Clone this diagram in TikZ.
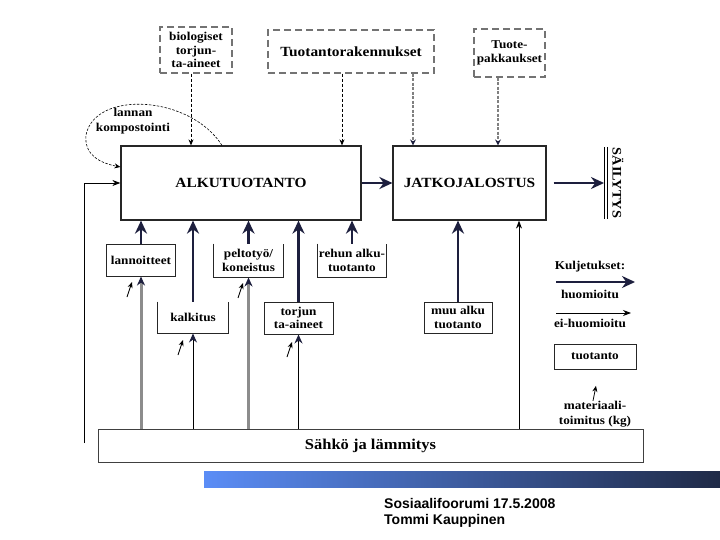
\documentclass[tikz,border=0pt]{standalone}
\usepackage{fontspec}
\setmainfont[FakeStretch=1.1]{Liberation Serif}
\newfontfamily\footfont{Liberation Sans}
\usetikzlibrary{arrows.meta, positioning}
\definecolor{navy}{HTML}{1D1F3E}
\definecolor{barblue}{HTML}{5B8DF6}
\definecolor{bardark}{HTML}{1F2A47}

\begin{document}
\begin{tikzpicture}[x=1pt, y=-1pt,
  box/.style={draw=black!85, line width=1pt, fill=white, align=center, inner sep=1pt, font=\fontsize{12}{13.5}\selectfont\bfseries},
  openbox/.style={box, draw=none},
  dbox/.style={box, draw=black!55, dash pattern=on 7pt off 4pt, line width=1.2pt},
  big/.style={font=\fontsize{14}{16}\selectfont\bfseries},
  lbl/.style={inner sep=0pt, align=center, font=\fontsize{12}{15}\selectfont\bfseries},
  feed/.style={draw=navy, line width=2.4pt, -{Stealth[length=13pt, width=12pt]}},
  thinarr/.style={draw=black, line width=0.9pt, -{Stealth[length=8pt, width=6pt]}},
  grayfeed/.style={draw=black!45, line width=3pt, -{Stealth[length=9pt, width=8pt, color=navy]}},
  blackfeed/.style={draw=black, line width=1pt, -{Stealth[length=9pt, width=8pt, color=navy]}},
  matarr/.style={draw=black, line width=0.8pt, -{Stealth[length=6pt, width=5pt]}},
  dashin/.style={draw=black, line width=0.8pt, dash pattern=on 3pt off 2pt, -{Stealth[length=6pt, width=5pt]}},
  grayin/.style={draw=black!50, line width=2pt, dash pattern=on 3pt off 1.5pt, -{Stealth[length=6pt, width=6pt, color=navy]}}]
  \fill[white] (0,0) rectangle (720,540);
  \useasboundingbox (0,0) rectangle (720,540);

  % Upper inputs
  \node[dbox, minimum width=72pt, minimum height=46pt] (bio) at (196,50) {biologiset\\torjun-\\ta-aineet};
  \node[dbox, minimum width=166pt, minimum height=43pt, font=\fontsize{14}{16}\selectfont\bfseries] (rak) at (351,51.5) {Tuotantorakennukset};
  \node[dbox, minimum width=71pt, minimum height=48pt] (pak) at (509.5,53) {Tuote-\\pakkaukset};

  % Production chain
  \node[box, big, line width=1.2pt, minimum width=240pt, minimum height=74pt] (alku) at (241,183) {ALKUTUOTANTO};
  \node[box, big, line width=1.2pt, minimum width=153pt, minimum height=74pt] (jatko) at (469.5,183) {JATKOJALOSTUS};
  \node[lbl, rotate=-90, font=\fontsize{13}{15}\selectfont\bfseries] (sail) at (618,183) {SÄILYTYS};
  \coordinate (sailbar) at (606,183);
  \draw[double, double distance=2.5pt, line width=1.1pt] (sailbar) ++(0,-36) -- ++(0,72);

  % Lower inputs
  \node[box, minimum width=69pt, minimum height=32pt] (lann) at (141,260) {lannoitteet};
  \node[openbox, minimum width=69pt, minimum height=33pt] (pelto) at (248.5,260.5) {peltotyö/\\koneistus};
  \node[openbox, minimum width=68pt, minimum height=33pt] (rehu) at (352,260.5) {rehun alku-\\tuotanto};
  \node[openbox, minimum width=70pt, minimum height=31pt] (kalk) at (193,317.5) {kalkitus};
  \node[box, minimum width=69pt, minimum height=32pt] (torj) at (298.5,318) {torjun\\ta-aineet};
  \node[box, minimum width=68pt, minimum height=31pt] (muu) at (458,317.5) {muu alku\\tuotanto};
  \foreach \n in {pelto, rehu, kalk}
    \draw[line width=1pt, black!85] (\n.north west) -- (\n.south west) -- (\n.south east) -- (\n.north east);

  \node[box, draw=black!75, font=\fontsize{15}{17}\selectfont\bfseries, minimum width=545pt, minimum height=33pt] (sahko) at (370.5,445.5) {Sähkö ja lämmitys};

  % Transports
  \draw[feed] (alku.east) -- (jatko.west);
  \draw[feed, shorten <=7pt, shorten >=2pt] (jatko.east) -- (sailbar);
  \foreach \n in {lann, kalk, pelto, torj, rehu}
    \draw[feed] (\n.north) -- (\n.north |- alku.south);
  \draw[feed] (muu.north) -- (muu.north |- jatko.south);

  \foreach \n in {lann, pelto}
    \draw[grayfeed] (sahko.north -| \n.south) -- (\n.south);
  \foreach \n in {kalk, torj}
    \draw[blackfeed] (sahko.north -| \n.south) -- (\n.south);
  \coordinate (jin) at ([xshift=49.5pt]jatko.south);
  \draw[thinarr] (sahko.north -| jin) -- (jin);
  \coordinate (lstart) at (84,443);
  \draw[thinarr] (lstart) |- (alku.west);

  % Dashed inputs from above
  \draw[dashin] ([xshift=-5pt]bio.south) -- ([xshift=-5pt]bio.south |- alku.north);
  \draw[dashin] ([xshift=-9pt]rak.south) -- ([xshift=-9pt]rak.south |- alku.north);
  \draw[grayin] ([xshift=62pt]rak.south) -- ([xshift=62pt]rak.south |- jatko.north);
  \draw[grayin] ([xshift=-11.5pt]pak.south) -- ([xshift=-11.5pt]pak.south |- jatko.north);

  % Composting loop
  \node[lbl] (komp) at (133,121) {lannan\\kompostointi};
  \draw[dashin, line width=0.6pt, dash pattern=on 2.5pt off 1.5pt] ([xshift=-19pt]alku.north) .. controls (190,95) and (95,90) .. (86,135) .. controls (84,155) and (100,163) .. ([yshift=16pt]alku.west);

  % Material deliveries
  \foreach \x/\y in {127/297, 238/298, 178/355, 287/357}
    \draw[matarr] (\x,\y) -- ++(5,-15);

  % Legend
  \node[lbl] (kulj) at (590,267) {Kuljetukset:};
  \coordinate (k1a) at (556,282);
  \coordinate (k1b) at (635,282);
  \draw[feed, line width=2pt] (k1a) -- (k1b);
  \node[lbl] (huom) at (590,294) {huomioitu};
  \coordinate (k2a) at (556,313);
  \coordinate (k2b) at (631,313);
  \draw[thinarr] (k2a) -- (k2b);
  \node[lbl] (eihuom) at (590,323) {ei-huomioitu};
  \node[box, minimum width=82pt, minimum height=25pt] (tuot) at (595,356.5) {tuotanto};
  \node[lbl] (mat) at (595,414) {materiaali-\\toimitus (kg)};
  \draw[matarr] ([xshift=-2pt]mat.north) -- ++(3,-15);

  % Footer
  \shade[left color=barblue, right color=bardark] (204,471) rectangle (720,487);
  \node[anchor=west, inner sep=0pt, align=left, font=\footfont\fontsize{14}{16}\selectfont\bfseries] (foot) at (384,513) {Sosiaalifoorumi 17.5.2008\\Tommi Kauppinen};
\end{tikzpicture}
\end{document}
